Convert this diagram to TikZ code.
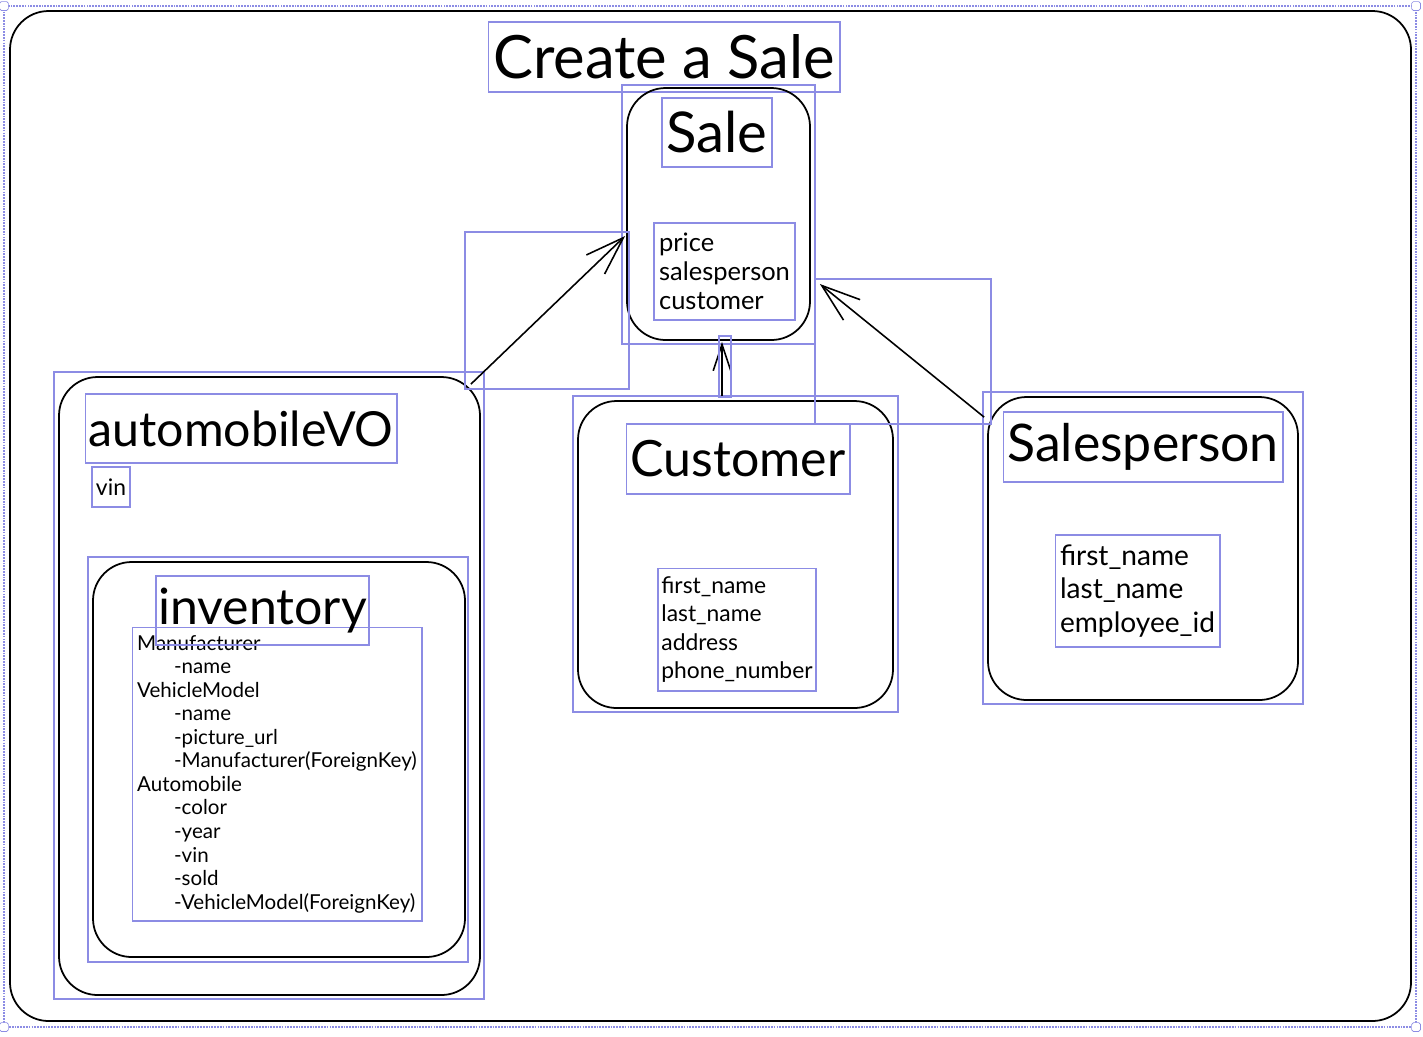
\documentclass[tikz,border=0pt]{standalone}
\usepackage{fontspec}
\setmainfont{Lato}
\usetikzlibrary{arrows.meta,fit}
\definecolor{selblue}{RGB}{140,140,228}

\begin{document}
\begin{tikzpicture}[x=0.02cm, y=-0.02cm,
  card/.style={rectangle, draw, line width=1pt, rounded corners=22pt, inner sep=0pt},
  sel/.style={draw=selblue, line width=0.6pt},
  selbox/.style={rectangle, sel, inner sep=0pt},
  heading/.style={selbox, font=\fontsize{28.5}{34}\selectfont},
  fields/.style={selbox, align=left, font=\fontsize{13}{16.2}\selectfont},
  link/.style={-{Straight Barb[length=22pt, width=15pt]}, line width=0.9pt},
  shortlink/.style={-{Straight Barb[length=15pt, width=10pt]}, line width=0.9pt},
  handle/.style={rectangle, draw=selblue, fill=white, rounded corners=1pt, minimum size=5pt, inner sep=0pt}]
  \useasboundingbox (0,0) rectangle (1423,1036);

  % canvas frame and its selection
  \node (frame) [card, fit={(10,11) (1411,1021)}] {};
  \draw[sel, dash pattern=on 1pt off 0.6pt] (4,6) rectangle (1416,1027);
  \node (handlenw) [handle] at (4,6) {};
  \node (handlene) [handle] at (1416,6) {};
  \node (handlesw) [handle] at (4,1027) {};
  \node (handlese) [handle] at (1416,1027) {};

  \node (title) [heading, font=\fontsize{34}{40}\selectfont, minimum width=7.04cm, minimum height=1.4cm] at (664,57) {Create a Sale};

  % Sale
  \node (sale) [card, fit={(627,88) (810,340)}] {};
  \node (salesel) [selbox, fit={(622,85) (815,344)}] {};
  \node (saletitle) [heading, font=\fontsize{32}{38}\selectfont, minimum width=2.2cm, minimum height=1.38cm] at (717,132.5) {Sale};
  \node (salefields) [fields, font=\fontsize{14.5}{16.4}\selectfont, minimum width=2.82cm, minimum height=1.94cm] at (724.5,271.5) {price\\salesperson\\customer};

  % automobileVO with inventory
  \node (auto) [card, fit={(59,377) (480,995)}] {};
  \node (autosel) [selbox, fit={(54,372) (484,999)}] {};
  \node (autotitle) [heading, font=\fontsize{27.5}{34}\selectfont, minimum width=6.24cm, minimum height=1.38cm] at (241,428.5) {automobileVO};
  \node (autovin) [fields, minimum width=0.76cm, minimum height=0.8cm] at (111,487) {vin};
  \node (inv) [card, fit={(93,562) (465,957)}] {};
  \node (invsel) [selbox, fit={(88,557) (468,962)}] {};
  \node (invfields) [fields, font=\fontsize{11.7}{13.4}\selectfont, minimum width=5.8cm, minimum height=5.88cm] at (277,774) {Manufacturer\\
    \hspace*{21pt}-name\\
    VehicleModel\\
    \hspace*{21pt}-name\\
    \hspace*{21pt}-picture\_url\\
    \hspace*{21pt}-Manufacturer(ForeignKey)\\
    Automobile\\
    \hspace*{21pt}-color\\
    \hspace*{21pt}-year\\
    \hspace*{21pt}-vin\\
    \hspace*{21pt}-sold\\
    \hspace*{21pt}-VehicleModel(ForeignKey)};
  \node (invtitle) [heading, minimum width=4.26cm, minimum height=1.38cm] at (262.5,610.5) {inventory};

  % Customer
  \node (cust) [card, fit={(578,401) (893,708)}] {};
  \node (custsel) [selbox, fit={(573,396) (898,712)}] {};
  \node (custtitle) [heading, minimum width=4.48cm, minimum height=1.4cm] at (738,459) {Customer};
  \node (custfields) [fields, minimum width=3.16cm, minimum height=2.46cm] at (737,629.5) {first\_name\\last\_name\\address\\phone\_number};

  % Salesperson
  \node (sp) [card, fit={(988,397) (1298,700)}] {};
  \node (spsel) [selbox, fit={(983,392) (1303,704)}] {};
  \node (sptitle) [heading, font=\fontsize{29.5}{34}\selectfont, minimum width=5.6cm, minimum height=1.4cm] at (1143,447) {Salesperson};
  \node (spfields) [fields, font=\fontsize{16}{19.3}\selectfont, minimum width=3.3cm, minimum height=2.24cm] at (1137.5,591) {first\_name\\last\_name\\employee\_id};

  % links into Sale
  \draw[link] ([shift={(-10,8)}]auto.north east) -- ([shift={(-1,22)}]sale.west);
  \draw[shortlink] ([shift={(-13.5,-4)}]cust.north) -- ([shift={(3.5,1)}]sale.south);
  \draw[link] ([shift={(-3,21)}]sp.north west) -- ([shift={(9,70)}]sale.east);
  \draw[sel] (465,232) rectangle (629,389);
  \draw[sel] (719,336) rectangle (731,397);
  \draw[sel] (815,279) rectangle (991,424);
\end{tikzpicture}
\end{document}
